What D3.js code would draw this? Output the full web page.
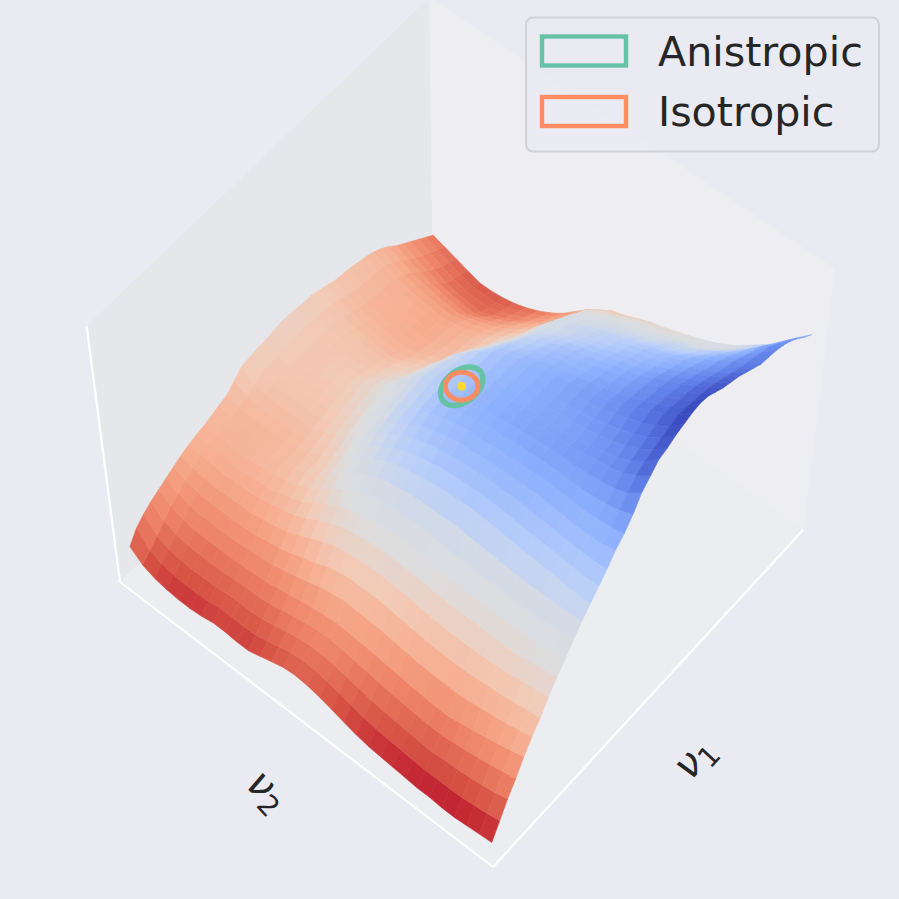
<!DOCTYPE html>
<html><head><meta charset="utf-8">
<script src="https://cdn.jsdelivr.net/npm/d3@7"></script>
<style>html,body{margin:0;padding:0;background:#eaeaf2}svg{display:block}text{font-family:"DejaVu Sans";fill:#262626}</style>
</head><body><svg id="c" width="899" height="899"></svg>
<script>
const legendLabels=["Anistropic","Isotropic"];
const legendColors=["#66c2a5","#fc8d62"];
const axisLabels=["ν","ν"];
const axisSubs=["1","2"];
const coolwarm=["#3b4cc0","#6282ea","#8db0fe","#b6cdfa","#d4dbe6","#dddcdc","#f2cbb7","#f7ac8e","#ee8468","#d65244","#b40426"];
// surface heights, per mille of the z axis; rows run along v1, columns along v2
const zRows=[
[50,45,40,35,35,40,40,45,50,55,60,70,85,100,115,125,130,125,110,95,80,80,85,85,75,70,70,75,85,105,145],
[110,100,93,86,84,85,83,87,92,96,102,111,124,136,148,157,159,154,140,126,113,110,113,112,104,100,100,104,114,134,190],
[170,155,146,138,132,130,125,128,133,138,143,151,162,172,182,188,188,182,170,158,145,140,141,139,132,130,130,133,142,162,215],
[220,210,199,189,181,175,168,170,175,179,185,192,201,208,215,220,218,211,200,189,178,170,169,166,161,160,160,162,171,191,235],
[280,265,252,240,230,220,210,212,216,220,227,233,240,244,248,252,247,240,230,220,210,200,197,193,190,190,190,192,200,220,250],
[330,316,305,295,288,282,275,277,280,283,289,296,303,306,309,312,304,293,276,263,249,235,229,223,218,217,216,217,224,240,265],
[372,366,358,350,345,340,335,336,338,341,347,353,360,363,365,365,358,345,322,305,288,270,261,252,245,243,242,241,248,260,280],
[425,417,410,400,395,392,390,390,392,395,400,407,412,416,416,412,405,398,375,352,328,305,293,283,272,270,268,266,271,280,295],
[470,465,455,445,443,445,447,447,448,450,455,460,463,465,464,458,448,436,418,392,365,342,325,312,300,296,293,290,295,300,305],
[510,505,497,490,488,490,490,490,492,495,498,503,507,509,507,500,490,475,455,425,395,365,345,330,315,310,306,302,306,310,315],
[555,548,543,538,537,538,540,541,543,546,550,553,556,556,552,546,532,514,490,455,420,385,362,346,330,324,320,315,316,319,320],
[595,590,590,588,588,590,595,598,602,606,608,608,608,604,597,588,572,548,520,482,445,405,380,362,345,338,333,328,327,328,330],
[630,630,635,640,643,647,652,657,662,666,664,660,656,647,637,624,605,578,545,495,450,400,375,358,340,332,326,320,320,325,340],
[665,664,668,671,675,680,684,688,692,694,692,688,683,673,663,647,625,595,562,510,465,415,385,365,345,338,334,330,330,335,350],
[700,695,696,698,703,708,712,714,715,715,712,708,703,693,681,665,640,610,577,525,480,428,396,372,352,347,344,342,344,350,375],
[740,727,723,724,729,733,737,737,735,732,730,726,721,710,697,680,652,620,588,540,495,443,408,382,360,356,354,354,358,365,400],
[770,759,754,751,753,757,760,757,754,749,746,742,737,725,712,694,664,630,598,550,507,455,420,392,368,366,366,366,370,380,405],
[810,792,780,773,772,771,772,770,766,761,757,752,745,732,717,700,668,635,603,555,513,463,428,400,375,372,370,369,373,385,410],
[860,824,806,797,791,787,786,782,778,772,766,759,751,736,721,703,672,638,607,560,519,470,435,407,382,377,374,371,376,388,410],
[890,858,832,818,809,800,794,789,785,779,771,762,750,735,719,700,671,642,612,566,525,477,442,414,389,382,377,373,379,392,415],
[920,878,846,822,808,798,789,783,778,773,765,757,750,734,717,698,672,645,617,572,532,485,450,422,396,388,381,376,382,396,420],
[930,889,858,835,818,806,794,786,780,773,765,756,748,731,714,696,667,638,607,559,518,467,436,410,386,381,376,374,380,394,420],
[945,901,870,846,829,814,799,790,782,773,764,755,745,729,712,693,662,630,597,547,502,450,422,398,376,373,372,371,377,391,415],
[955,912,882,858,840,822,804,793,784,773,763,753,742,726,709,690,657,622,587,534,487,432,408,386,366,366,367,368,374,388,410],
[965,923,895,870,850,830,809,797,785,773,762,751,740,724,707,688,652,615,577,522,472,415,395,375,356,359,363,366,372,386,410],
[970,918,890,865,844,823,801,788,776,763,751,739,727,709,691,670,632,594,555,501,452,397,376,355,338,342,348,353,361,377,400],
[965,913,885,860,838,816,794,780,767,753,740,728,715,695,674,653,613,572,532,479,433,380,360,340,324,328,334,340,350,367,390],
[950,908,880,855,832,810,787,772,758,743,729,716,702,680,658,635,594,551,509,458,413,365,345,327,312,316,322,328,339,356,380],
[935,902,873,848,825,802,778,762,748,732,717,704,690,666,642,618,574,530,487,437,395,352,333,317,303,308,313,318,328,346,375],
[925,890,860,835,812,788,765,748,733,715,700,686,670,647,624,600,556,511,467,420,380,342,325,310,296,301,307,313,322,338,370],
[915,878,848,822,798,775,752,735,718,700,683,667,650,627,606,583,539,492,447,402,365,335,319,305,292,297,303,309,320,335,362],
[900,865,835,808,783,760,738,720,703,685,667,649,630,608,587,565,520,473,428,392,360,330,315,303,292,297,304,310,322,335,355],
[885,852,822,795,770,747,725,705,688,670,655,638,622,604,585,563,515,462,410,375,345,318,303,292,282,285,290,296,310,327,345],
[870,842,812,782,755,728,703,682,668,650,633,618,603,584,565,545,497,447,392,358,330,305,290,275,265,268,272,280,292,310,330],
[865,832,797,765,735,705,678,655,645,624,607,595,582,563,545,527,477,426,375,341,313,288,270,255,240,245,252,260,273,290,310],
[860,820,780,745,712,680,652,630,620,598,583,572,560,540,522,505,453,400,353,322,295,268,247,228,210,215,222,232,248,266,285],
[850,810,765,725,690,660,632,608,597,575,560,550,538,520,503,487,435,384,335,305,275,247,225,203,185,190,197,205,222,243,265],
[835,790,750,705,665,632,603,580,570,548,535,525,512,493,475,460,412,363,315,282,252,224,201,180,160,164,168,178,200,222,245],
[815,770,725,680,640,605,575,552,540,520,505,495,485,465,447,432,388,345,300,265,235,207,186,166,150,151,154,165,185,205,225],
[790,748,700,655,612,580,550,528,512,492,477,465,455,436,416,400,364,328,285,248,217,191,170,153,140,138,140,152,170,188,205],
[770,725,680,635,600,565,535,510,490,472,455,438,425,405,385,370,340,310,270,230,200,175,155,140,130,125,125,140,155,170,185]
];
// optimum and the two contours, in grid fractions and z per mille
const optimumV1=[0.502], optimumV2=[0.5], optimumZ=[675];
const contourRadiiV1=[0.052,0.033], contourRadiiV2=[0.035,0.033];

const W=899;
const svg=d3.select("#c");
svg.append("rect").attr("width",W).attr("height",W).attr("fill","#eaeaf2");

// camera: homogeneous projection of the unit box
const F=[493,867],R=[803,530],L=[120,582],V=[468,3256],k=1.045,cz=-0.0913;
function project(u,v,z){
  const w=1+(k-1)*(u+v)+cz*z;
  return [(F[0]+u*(k*R[0]-F[0])+v*(k*L[0]-F[0])+z*cz*V[0])/w,
          (F[1]+u*(k*R[1]-F[1])+v*(k*L[1]-F[1])+z*cz*V[1])/w, w];
}
const sScale=d3.scaleLinear().domain([0,zRows.length-1]).range([0.0208,0.9792]);
const tScale=d3.scaleLinear().domain([0,zRows[0].length-1]).range([0.0208,0.9792]);
const fracS=d3.scaleLinear().domain([0,1]).range([0.0208,0.9792]);
const zScale=d3.scaleLinear().domain([0,1000]).range([0,1]);
const warmToCool=coolwarm.slice().reverse();
const colorScale=d3.scaleLinear().domain(warmToCool.map((_,i)=>20+92*i)).range(warmToCool).clamp(true);
const lineGen=d3.line();

// panes
const poly=pts=>lineGen(pts.map(p=>project(...p).slice(0,2)))+"Z";
const panes=[
 {c:[[0,1,0],[0,1,1],[1,1,1],[1,1,0]],f:"#e6e7eb"},
 {c:[[1,0,0],[1,0,1],[1,1,1],[1,1,0]],f:"#eeeef2"},
 {c:[[0,0,0],[1,0,0],[1,1,0],[0,1,0]],f:"#ecedf1"}];
svg.selectAll("path.pane").data(panes).join("path").attr("class","pane").attr("d",d=>poly(d.c)).attr("fill",d=>d.f);
// white box edges
const edges=[[[0,1,1],[0,1,0]],[[0,1,0],[0,0,0]],[[0,0,0],[1,0,0]]];
svg.selectAll("path.edge").data(edges).join("path").attr("class","edge")
  .attr("d",d=>lineGen(d.map(p=>project(...p).slice(0,2)))).attr("stroke","#fff").attr("stroke-width",2.2).attr("fill","none");

// surface
const cells=[];
for(let i=0;i<zRows.length-1;i++)for(let j=0;j<zRows[0].length-1;j++){
  const q=[[i,j],[i+1,j],[i+1,j+1],[i,j+1]];
  const pts=q.map(([a,b])=>project(sScale(a),tScale(b),zScale(zRows[a][b])));
  cells.push({pts,depth:d3.mean(pts,p=>p[2]),val:d3.mean(q,([a,b])=>zRows[a][b])});
}
cells.sort((a,b)=>b.depth-a.depth);
svg.append("g").selectAll("path").data(cells).join("path")
  .attr("d",d=>lineGen(d.pts.map(p=>[p[0],p[1]]))+"Z")
  .attr("fill",d=>colorScale(d.val))
  .attr("stroke",d=>colorScale(d.val)).attr("stroke-width",0.6);

// contours
const angles=d3.range(0,361,6).map(a=>a*Math.PI/180);
[0,1].forEach(n=>{
  const pts=angles.map(a=>project(fracS(optimumV1[0]+contourRadiiV1[n]*Math.cos(a)),fracS(optimumV2[0]+contourRadiiV2[n]*Math.sin(a)),zScale(optimumZ[0])).slice(0,2));
  svg.append("path").attr("d",lineGen(pts)+"Z").attr("fill","none").attr("stroke",legendColors[n]).attr("stroke-width",n?5:5.5);
});
const c0=project(fracS(optimumV1[0]),fracS(optimumV2[0]),zScale(optimumZ[0]));
svg.append("circle").attr("cx",c0[0]).attr("cy",c0[1]).attr("r",4.5).attr("fill","#ffd92f");

// axis labels
function axisLabel(x,y,rot,n){
  const t=svg.append("text").attr("transform",`translate(${x},${y}) rotate(${rot})`).attr("text-anchor","middle").attr("font-size",40);
  t.append("tspan").attr("font-style","italic").text(axisLabels[n]);
  t.append("tspan").attr("font-size",28).attr("dy",6).text(axisSubs[n]);
}
axisLabel(704,767,-47,0);
axisLabel(258,800,47,1);

// legend
const lg=svg.append("g");
lg.append("rect").attr("x",526).attr("y",17.5).attr("width",353).attr("height",134).attr("rx",7)
  .attr("fill","#eaeaf2").attr("fill-opacity",0.8).attr("stroke","#d2d2d4").attr("stroke-width",2);
legendLabels.forEach((s,i)=>{
  lg.append("rect").attr("x",542).attr("y",36.5+60.5*i).attr("width",84).attr("height",29).attr("fill","none").attr("stroke",legendColors[i]).attr("stroke-width",4.4);
  lg.append("text").attr("x",658).attr("y",65.5+60.5*i).attr("font-size",41.2).text(s);
});
</script></body></html>
